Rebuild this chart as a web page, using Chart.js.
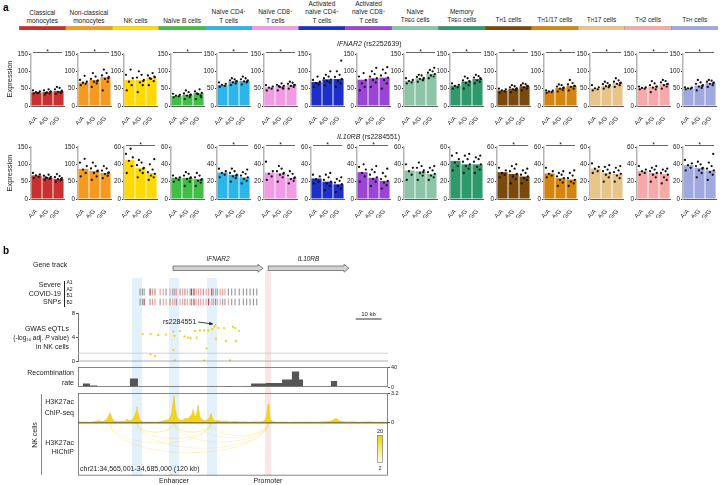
<!DOCTYPE html>
<html><head><meta charset="utf-8">
<script src="https://cdn.jsdelivr.net/npm/chart.js@4.4.1/dist/chart.umd.min.js"></script>
<style>
html,body{margin:0;padding:0;background:#fff}
body{width:720px;height:485px;position:relative;overflow:hidden;font-family:"Liberation Sans",Arial,Helvetica,sans-serif;color:#222}
canvas{position:absolute}
.t{position:absolute;white-space:nowrap}
.t sup{font-size:65%;vertical-align:0;position:relative;top:-0.5em}
.t small{font-size:72%}
.t sub{font-size:65%;vertical-align:0;position:relative;top:0.3em}
</style></head><body>
<script>
// ================= DATA =================
const cellTypes = ['Classical monocytes','Non-classical monocytes','NK cells','Naïve B cells','Naïve CD4+ T cells','Naïve CD8+ T cells','Activated naïve CD4+ T cells','Activated naïve CD8+ T cells','Naïve TREG cells','Memory TREG cells','TH1 cells','TH1/17 cells','TH17 cells','TH2 cells','TFH cells'];
const cellLabels = ['Classical<br>monocytes','Non-classical<br>monocytes','NK cells','Naïve B cells','Naïve CD4<sup>+</sup><br>T cells','Naïve CD8<sup>+</sup><br>T cells','Activated<br>naïve CD4<sup>+</sup><br>T cells','Activated<br>naïve CD8<sup>+</sup><br>T cells','Naïve<br>T<small>REG</small> cells','Memory<br>T<small>REG</small> cells','T<small>H</small>1 cells','T<small>H</small>1/17 cells','T<small>H</small>17 cells','T<small>H</small>2 cells','T<small>FH</small> cells'];
const cellColors = ['#c8312f','#f59a1f','#ffd900','#40bf46','#2bb5e8','#f09be4','#1c2fc8','#9b45d6','#8cc4a8','#2e9a6b','#7a4a0c','#d4850f','#e6c48a','#f7a9a9','#a0a8e0'];
const genotypes = ['A/A','A/G','G/G'];

const ifnar2Label = '<i>IFNAR2</i> (rs2252639)';
const ifnar2Means = [[39,40,43],[68,75,83],[75,75,82],[29,32,37],[61,71,72],[54,58,61],[69,77,78],[76,80,82],[73,80,93],[59,71,78],[45,50,57],[42,52,58],[51,58,66],[52,56,63],[51,59,66]];
const ifnar2Sig = [1,1,0,1,1,1,0,0,1,1,1,1,1,1,1];
const ifnar2Max = [150,150,150,150,150,150,150,150,150,150,150,150,150,150,150];
const ifnar2Dots = [
 [[36,38,40,42,45,37],[33,36,39,42,45,48,38,41],[35,38,41,44,48,52,55,40]],
 [[60,64,67,70,75,87],[55,65,70,74,78,85,95,72],[45,70,78,84,88,95,105,80]],
 [[45,60,70,80,90,105],[40,60,68,75,82,90,100,72],[60,72,78,83,88,95,80,85]],
 [[25,28,30,32,35],[20,26,30,33,36,40,45,32],[20,30,34,38,42,48,36,25]],
 [[55,58,61,64,68],[60,65,68,71,74,77,80,72],[62,68,71,74,77,80,85,72]],
 [[45,50,53,56,60],[45,52,55,58,61,65,57,50],[50,55,58,61,64,67,70,60]],
 [[55,62,66,70,75,85],[60,68,72,76,80,85,90,100],[55,65,72,78,84,90,100,131]],
 [[45,55,65,75,85,95],[55,68,75,80,85,92,100,110],[50,65,75,82,88,95,105,112]],
 [[65,68,72,75,80],[70,74,78,81,84,88,90,76],[80,85,88,92,96,100,104,110]],
 [[50,54,58,61,65],[50,60,66,70,74,80,85,72],[65,70,74,78,82,86,90,80]],
 [[38,42,45,48,50],[40,45,48,51,54,57,60,50],[45,50,54,57,60,63,65,58]],
 [[38,40,42,44,45],[42,46,50,53,56,60,62,52],[45,50,55,58,62,66,75,58]],
 [[45,48,51,54,60],[50,54,57,60,63,66,70,58],[55,60,64,67,70,74,80,66]],
 [[48,50,52,54,56],[40,48,53,56,60,65,72,56],[50,56,60,64,68,72,75,63]],
 [[48,50,51,53,54],[45,52,56,60,64,68,75,58],[55,60,64,67,70,73,75,66]]
];

const il10rbLabel = '<i>IL10RB</i> (rs2284551)';
const il10rbMeans = [[68,62,58],[87,81,75],[45,36,30],[24.5,24.5,23],[30.5,28,25],[30.5,29.5,24.5],[23.7,20,17],[31,24.5,21],[33,32,29],[44,40,40],[31,29,26],[29.5,24,22.5],[35,30,29],[32.5,30,29],[39,36,33]];
const il10rbSig = [0,0,1,0,1,1,1,1,0,0,1,1,0,1,1];
const il10rbMax = [150,150,60,60,60,60,60,60,60,60,60,60,60,60,60];
const il10rbDots = [
 [[60,64,68,71,75],[55,58,61,64,67,70,62,60],[50,54,57,60,63,66,72,58]],
 [[65,75,85,95,105,116],[55,65,75,82,88,95,105,80],[60,67,72,77,82,88,95,75]],
 [[30,38,44,48,52,58],[25,30,33,36,39,42,45,35],[22,25,27,29,31,34,40,46]],
 [[20,22,24,25,27],[15,20,23,25,27,29,31,24],[15,19,21,23,25,27,30,22]],
 [[25,28,30,32,35],[20,24,26,28,30,32,35,27],[18,21,23,25,27,29,31,34]],
 [[22,26,29,32,43],[20,25,28,30,32,35,38,29],[18,21,23,25,27,29,32,24]],
 [[18,20,23,26,28],[10,15,18,20,22,25,28,30],[8,12,15,17,19,21,23,25]],
 [[20,26,30,34,37,40],[15,20,23,25,28,31,34,38],[12,16,19,21,23,26,30,35]],
 [[22,28,32,36,40],[22,27,30,33,36,38,42,31],[22,25,27,29,31,33,36,38]],
 [[33,38,42,46,50,53],[30,35,38,40,43,46,50,52],[30,34,37,40,43,46,48,50]],
 [[25,28,30,33,36],[18,23,26,29,32,35,38,40],[18,22,24,26,28,30,33,35]],
 [[25,27,29,32,36],[15,19,22,24,26,28,30,32],[15,18,20,22,24,27,30,33]],
 [[30,32,35,37,41],[20,25,28,30,32,34,37,39],[20,24,27,29,31,33,36,38]],
 [[28,30,32,34,38],[20,25,28,30,32,34,36,38],[18,22,25,28,30,32,34,35]],
 [[33,36,39,41,45],[25,30,33,36,38,40,43,35],[22,28,31,33,35,38,42,52]]
];

// ---- panel b (positions in kb from chr21:34,565,001) ----
const regionLabel = 'chr21:34,565,001-34,685,000 (120 kb)';
const regionKb = [0, 120];
const geneNames = ['IFNAR2','IL10RB'];
const geneStart = [36.8, 73.6];
const geneEnd = [71.6, 104.9];
const enhStart = [20.9, 35.2, 49.9];
const enhEnd = [24.8, 39.1, 53.8];
const promStart = [72.4];
const promEnd = [74.7];
const snpPos = [24.0,24.9,25.6,27.9,28.8,29.8,31.8,33.0,34.1,35.6,36.7,37.5,38.2,39.5,40.5,41.4,42.3,43.4,44.0,44.9,45.7,46.6,47.5,48.5,49.6,50.6,51.8,52.4,53.2,53.9,55.0,56.0,56.9,58.2,59.5,60.8,62.4,64.0,65.3,66.6,67.9,69.2];
const snpClassA = [0,0,0,2,1,0,1,1,0,1,0,0,1,0,1,0,1,0,2,2,1,1,1,0,1,1,2,1,1,0,1,1,1,0,0,0,0,0,0,0,0,0];
const snpClassB = [0,0,2,0,1,1,0,1,1,0,1,1,0,1,1,0,1,1,0,2,1,1,1,1,1,2,1,1,0,1,1,0,0,1,0,0,0,0,0,0,0,0];
const eqtlPos = [25.0,28.1,31.1,34.0,36.9,37.3,39.5,41.2,42.5,43.6,45.3,45.9,47.2,48.8,49.8,48.8,50.4,52.0,52.8,53.2,53.4,54.3,56.5,57.3,58.8,59.9,60.8,61.2,62.4,28.1,29.8,36.9,37.5];
const eqtlLogP = [4.5,4.5,4.3,4.4,4.9,4.2,5.0,4.1,3.9,3.8,5.0,3.9,5.1,5.1,2.1,0.1,5.1,5.3,5.7,6.0,3.7,5.5,5.5,3.3,0.1,5.7,5.5,3.3,5.0,1.1,0.8,1.8,0.1];
const eqtlThreshold = [1.3];
const leadSnp = ['rs2284551'];
const leadPos = [53.2];
const leadLogP = [6.0];
const recStart = [1.9,4.6,20.1,51.1,57.3,63.9,67.0,72.8,79.0,82.8,85.6,97.9,107.2];
const recEnd   = [4.6,7.4,23.2,52.3,59.6,67.0,72.8,79.0,82.8,85.6,87.1,100.3,108.0];
const recRate  = [7,3,17,1.5,2,1,7,8,15,31,15,12,1];
const recTicks = [0,40];
const chipPos = [0,2.3,4.6,6.6,8.1,9.3,10.8,11.6,12.4,13.2,13.9,15.5,17.0,18.2,19.0,19.7,20.9,21.7,22.5,22.8,23.4,24.0,25.2,26.7,28.6,30.2,31.7,32.9,34.1,35.2,36.2,36.8,37.2,37.6,38.3,39.1,40.3,41.0,41.8,42.6,43.4,44.1,44.5,45.1,45.7,46.1,46.5,47.0,47.6,48.4,49.2,49.9,50.7,51.5,52.1,53.0,54.2,55.7,57.3,58.8,60.8,62.7,64.7,66.6,68.5,70.5,72.0,72.8,73.3,73.6,73.9,74.5,75.5,77.4,79.8,82.1,84.4,86.7,89.0,91.4,93.7,96.0,97.9,99.1,99.9,100.7,101.8,103.8,106.1,108.4,110.7,113.0,115.4,117.7,120];
const chipVal = [0.08,0.1,0.06,0.15,0.25,0.12,0.3,0.6,1.07,0.5,0.2,0.12,0.2,0.15,0.4,0.2,0.3,0.6,1.2,1.7,0.8,0.3,0.1,0.08,0.1,0.06,0.12,0.2,0.3,0.35,0.9,2.2,2.9,1.6,0.6,0.35,0.25,0.4,0.5,0.45,0.7,0.9,1.4,0.8,0.7,1.2,1.9,0.9,0.4,0.3,0.2,0.3,0.5,1.0,0.4,0.2,0.25,0.15,0.2,0.1,0.15,0.1,0.12,0.08,0.12,0.1,0.2,0.5,1.3,2.0,1.0,0.35,0.12,0.08,0.1,0.06,0.1,0.08,0.1,0.08,0.1,0.12,0.2,0.35,0.5,0.3,0.15,0.1,0.12,0.08,0.1,0.12,0.06,0.1,0.05];
const chipTicks = [0,3.2];
const hichipA = [12.4,12.4,22.8,37.2,22.8,22.8,37.2,51.5,46.5];
const hichipB = [73.6,51.5,37.2,51.5,51.5,73.6,73.6,73.6,73.6];
const hichipCount = [9,6,15,15,8,6,8,7,5];
const hichipRange = [2,20];
const scaleBarKb = [107.5,117.5];

// ================= HELPERS =================
Chart.defaults.font.family = '"Liberation Sans", Arial, Helvetica, sans-serif';
Chart.defaults.color = '#222';
function cv(x,y,w,h){const c=document.createElement('canvas');c.width=w;c.height=h;c.style.left=x+'px';c.style.top=y+'px';c.style.width=w+'px';c.style.height=h+'px';document.body.appendChild(c);return c;}
function T(html,x,y,o){o=o||{};const d=document.createElement('div');d.className='t';d.innerHTML=html;const fs=o.fs||7;d.style.fontSize=fs+'px';d.style.lineHeight=(o.lh||Math.round(fs*1.15*10)/10)+'px';d.style.left=x+'px';d.style.top=y+'px';const tx=o.a==='r'?'-100%':o.a==='c'?'-50%':'0';const ty=o.vb?'-100%':'-50%';d.style.transform='translate('+tx+','+ty+')'+(o.rot?' rotate('+o.rot+'deg)':'');d.style.textAlign=o.a==='r'?'right':o.a==='c'?'center':'left';if(o.i)d.style.fontStyle='italic';if(o.b)d.style.fontWeight='bold';if(o.col)d.style.color=o.col;document.body.appendChild(d);return d;}
function mk(c,cfg){cfg.options=Object.assign({responsive:false,maintainAspectRatio:false,animation:false,devicePixelRatio:1,events:[]},cfg.options||{});cfg.options.plugins=Object.assign({legend:{display:false},tooltip:{enabled:false}},cfg.options.plugins||{});return new Chart(c,cfg);}
function line(x,y,w,h,css){const d=document.createElement('div');d.style.cssText='position:absolute;left:'+x+'px;top:'+y+'px;width:'+w+'px;height:'+h+'px;'+css;document.body.appendChild(d);}

// ================= PANEL A =================
T('a',3,8,{fs:10,b:true,col:'#000'});
const SEG0=19, SEGW=46.6;
cellLabels.forEach((l,i)=>T(l,SEG0+(i+0.5)*SEGW,24.8,{a:'c',vb:true,fs:6.5,lh:8}));
mk(cv(SEG0,26,Math.round(SEGW*15),4),{type:'bar',data:{labels:cellTypes,datasets:[{data:cellTypes.map(()=>1),backgroundColor:cellColors,barPercentage:1,categoryPercentage:1,borderWidth:0.5,borderColor:'rgba(0,0,0,0.35)'}]},
 options:{layout:{padding:0},scales:{x:{display:false},y:{display:false,min:0,max:1}}}});

const jit=[-0.25,0.2,-0.05,0.3,-0.32,0.1,-0.15,0.25];
const sigPlugin={id:'sig',afterDraw(ch,a,o){if(!o.show)return;const c=ch.ctx,ca=ch.chartArea;const y=ca.top-1.5;c.save();c.strokeStyle='#222';c.lineWidth=0.7;c.beginPath();c.moveTo(ca.left+2,y);c.lineTo(ca.right-2,y);c.stroke();c.fillStyle='#222';c.font='7px "Liberation Sans",Arial';c.textAlign='center';c.textBaseline='alphabetic';c.fillText('*',(ca.left+ca.right)/2,y+1.5);c.restore();}};
function smallBar(i,row){
 const ax=31+i*SEGW;
 const top=row===0?45:137, h=row===0?80:81, padTop=row===0?9:10;
 const means=row===0?ifnar2Means[i]:il10rbMeans[i];
 const dots=row===0?ifnar2Dots[i]:il10rbDots[i];
 const ymax=row===0?ifnar2Max[i]:il10rbMax[i];
 const sig=row===0?ifnar2Sig[i]:il10rbSig[i];
 const pts=[];dots.forEach((g,gi)=>g.forEach((v,k)=>pts.push({x:gi+jit[k%jit.length],y:v})));
 mk(cv(Math.round(ax)-18,top,55,h),{type:'bar',data:{datasets:[
   {type:'scatter',data:pts,pointRadius:1.15,pointBackgroundColor:'#111',pointBorderWidth:0,order:0},
   {data:means.map((m,k)=>({x:k,y:m})),backgroundColor:cellColors[i],barPercentage:0.92,categoryPercentage:1,order:1}]},
  options:{layout:{padding:{top:padTop,left:0,right:1,bottom:0}},plugins:{sig:{show:!!sig}},
   scales:{
    x:{type:'linear',offset:false,min:-0.5,max:2.5,afterBuildTicks:s=>{s.ticks=genotypes.map((g,k)=>({value:k}));},
       ticks:{callback:v=>genotypes[v],autoSkip:false,minRotation:45,maxRotation:45,font:{size:6},padding:1,color:'#222'},grid:{display:false,offset:false},border:{color:'#333',width:0.8},afterFit:s=>{s.height=19;}},
    y:{min:0,max:ymax,ticks:{stepSize:ymax===150?50:20,font:{size:6.3},padding:1,color:'#222'},grid:{drawOnChartArea:false,tickLength:2,color:'#333'},border:{color:'#b4b4b4',width:1.5},afterFit:s=>{s.width=18;}}
   }},plugins:[sigPlugin]});
}
for(let i=0;i<15;i++){smallBar(i,0);smallBar(i,1);}
T('Expression',10,79,{a:'c',rot:-90,fs:7.5});
T('Expression',10,173,{a:'c',rot:-90,fs:7.5});
T(ifnar2Label,337,44,{fs:7});
T(il10rbLabel,337,137,{fs:7});

// ================= PANEL B =================
T('b',3,251,{fs:10,b:true,col:'#000'});
const PADL=78, PADR=332;
function hx(){return {type:'linear',display:false,offset:false,min:regionKb[0],max:regionKb[1]};}

// background: enhancer/promoter bands + gene track
const BGTOP=250;
const bgPlugin={id:'bgp',beforeDraw(ch){const c=ch.ctx,xs=ch.scales.x;c.save();
  c.fillStyle='rgba(190,224,246,0.45)';enhStart.forEach((s,k)=>{const a=xs.getPixelForValue(s),b=xs.getPixelForValue(enhEnd[k]);c.fillRect(a,278-BGTOP,b-a,476-278);});
  c.fillStyle='rgba(244,200,200,0.45)';promStart.forEach((s,k)=>{const a=xs.getPixelForValue(s),b=xs.getPixelForValue(promEnd[k]);c.fillRect(a,270-BGTOP,b-a,476-270);});
  c.restore();},
 afterDraw(ch){const c=ch.ctx,xs=ch.scales.x;c.save();c.fillStyle='#d2d2d2';c.strokeStyle='#6a6a6a';c.lineWidth=0.8;
  geneStart.forEach((s,k)=>{const a=xs.getPixelForValue(s),b=xs.getPixelForValue(geneEnd[k]);const y0=266-BGTOP,y1=270.5-BGTOP,hy0=264.3-BGTOP,hy1=272.2-BGTOP,hl=5;
   c.beginPath();c.moveTo(a,y0);c.lineTo(b-hl,y0);c.lineTo(b-hl,hy0);c.lineTo(b,(y0+y1)/2);c.lineTo(b-hl,hy1);c.lineTo(b-hl,y1);c.lineTo(a,y1);c.closePath();c.fill();c.stroke();});
  c.restore();}};
const bg=mk(cv(0,BGTOP,720,230),{type:'scatter',data:{datasets:[]},options:{layout:{padding:{left:PADL,right:PADR,top:0,bottom:0}},scales:{x:hx(),y:{display:false,min:0,max:1}}},plugins:[bgPlugin]});
geneNames.forEach((g,k)=>T(g,bg.scales.x.getPixelForValue((geneStart[k]+geneEnd[k])/2),259,{a:'c',i:true,fs:6.5}));
T('Enhancer',bg.scales.x.getPixelForValue((enhStart[1]+enhEnd[1])/2),481,{a:'c',fs:7});
T('Promoter',bg.scales.x.getPixelForValue((promStart[0]+promEnd[0])/2),481,{a:'c',fs:7});

// SNP ticks
const snpCol=['#8c8c8c','#f09090','#9a2a2a'];
mk(cv(0,282,720,30),{type:'scatter',data:{datasets:[
  {data:snpPos.map(p=>({x:p,y:1})),pointStyle:'line',pointRotation:90,pointRadius:3.5,pointBorderWidth:1,pointBorderColor:snpClassA.map(c=>snpCol[c])},
  {data:snpPos.map(p=>({x:p,y:0})),pointStyle:'line',pointRotation:90,pointRadius:3.3,pointBorderWidth:1,pointBorderColor:snpClassB.map(c=>snpCol[c])}]},
 options:{layout:{padding:{left:PADL,right:PADR,top:0,bottom:0}},scales:{x:hx(),y:{display:false,min:-0.5,max:1.5}}}});

// eQTL
const eqPlugin={id:'eqp',afterDraw(ch){const c=ch.ctx,xs=ch.scales.x,ys=ch.scales.y;c.save();
  const px=xs.getPixelForValue(leadPos[0]),py=ys.getPixelForValue(leadLogP[0]);
  const sx=198,sy=322-305,ex=px-2.5,ey=py-1;c.strokeStyle='#111';c.fillStyle='#111';c.lineWidth=0.8;c.beginPath();c.moveTo(sx,sy);c.lineTo(ex,ey);c.stroke();
  const ang=Math.atan2(ey-sy,ex-sx);c.beginPath();c.moveTo(ex,ey);c.lineTo(ex-4*Math.cos(ang-0.45),ey-4*Math.sin(ang-0.45));c.lineTo(ex-4*Math.cos(ang+0.45),ey-4*Math.sin(ang+0.45));c.closePath();c.fill();
  const a=xs.getPixelForValue(scaleBarKb[0]),b=xs.getPixelForValue(scaleBarKb[1]);c.strokeStyle='#333';c.lineWidth=1;c.beginPath();c.moveTo(a,319-305);c.lineTo(b,319-305);c.stroke();
  c.restore();}};
const eq=mk(cv(0,305,720,62),{type:'scatter',data:{datasets:[
  {type:'line',data:[{x:regionKb[0],y:eqtlThreshold[0]},{x:regionKb[1],y:eqtlThreshold[0]}],borderColor:'#c8c8c8',borderWidth:0.8,pointRadius:0,clip:false},
  {type:'line',data:[{x:regionKb[0],y:0},{x:regionKb[1],y:0}],borderColor:'#9a9a9a',borderWidth:0.8,pointRadius:0,clip:false},
  {data:eqtlPos.map((p,k)=>({x:p,y:eqtlLogP[k]})),pointRadius:1.1,pointBackgroundColor:'#f2cf00',pointBorderWidth:0}]},
 options:{layout:{padding:{left:PADL-10,right:PADR,top:8,bottom:6}},
  scales:{x:hx(),y:{min:0,max:8,ticks:{stepSize:4,font:{size:6},padding:1},grid:{drawOnChartArea:false,tickLength:2,color:'#555'},border:{color:'#555',width:0.8},afterFit:s=>{s.width=10;}}}},plugins:[eqPlugin]});
T(leadSnp[0],163,322,{fs:7});
T('10 kb',eq.scales.x.getPixelForValue((scaleBarKb[0]+scaleBarKb[1])/2),314,{a:'c',fs:6});

// Recombination rate
const boxPlugin={id:'box',afterDraw(ch){const c=ch.ctx,ca=ch.chartArea;c.save();c.strokeStyle='#7a7a7a';c.lineWidth=0.9;c.strokeRect(ca.left+0.5,ca.top+0.5,ca.right-ca.left-1,ca.bottom-ca.top-1);c.restore();}};
const recPts=[{x:regionKb[0],y:0}];recStart.forEach((s,k)=>{recPts.push({x:s,y:recRate[k]},{x:recEnd[k],y:0});});recPts.push({x:regionKb[1],y:0});
const rightAxis=(min,max,tks)=>({position:'right',min:min,max:max,afterBuildTicks:s=>{s.ticks=tks.map(v=>({value:v}));},ticks:{font:{size:5.5},padding:1},grid:{drawOnChartArea:false,tickLength:2,color:'#555'},border:{display:false},afterFit:s=>{s.width=14;}});
mk(cv(0,362,720,30),{type:'line',data:{datasets:[{data:recPts,stepped:true,fill:'origin',backgroundColor:'#555',borderWidth:0,pointRadius:0}]},
 options:{layout:{padding:{left:PADL,right:PADR-14,top:5,bottom:5}},scales:{x:hx(),y:rightAxis(0,40,recTicks)}},plugins:[boxPlugin]});

// ChIP-seq + HiChIP
const chipMin=-(83-30)*chipTicks[1]/30;
const hicPlugin={id:'hic',beforeDatasetsDraw(ch){const c=ch.ctx,xs=ch.scales.x,ys=ch.scales.y;const y0=ys.getPixelForValue(0);c.save();
  hichipA.forEach((a,k)=>{const x1=xs.getPixelForValue(a),x2=xs.getPixelForValue(hichipB[k]);const rx=(x2-x1)/2,ry=3+0.17*(x2-x1);const t=(hichipCount[k]-hichipRange[0])/(hichipRange[1]-hichipRange[0]);
   c.strokeStyle='rgba(244,210,40,'+(0.18+0.5*t).toFixed(2)+')';c.lineWidth=0.7;c.beginPath();c.ellipse((x1+x2)/2,y0,rx,ry,0,0,Math.PI);c.stroke();});
  c.restore();},
 afterDraw(ch){const c=ch.ctx,ys=ch.scales.y,ca=ch.chartArea;const y0=ys.getPixelForValue(0);c.save();c.strokeStyle='#7a7a7a';c.lineWidth=0.9;c.strokeRect(ca.left+0.5,ca.top+0.5,ca.right-ca.left-1,ca.bottom-ca.top-1);
  c.strokeStyle='#444';c.lineWidth=1;c.beginPath();c.moveTo(ca.left,y0);c.lineTo(ca.right,y0);c.stroke();
  const lx=ca.right-11,ly=435-388,lw=6,lh=28;const g=c.createLinearGradient(0,ly,0,ly+lh);g.addColorStop(0,'#f2cf00');g.addColorStop(1,'#ffffff');c.fillStyle=g;c.fillRect(lx,ly,lw,lh);c.strokeStyle='#888';c.lineWidth=0.7;c.strokeRect(lx+0.5,ly+0.5,lw-1,lh-1);
  c.restore();}};
mk(cv(0,388,720,92),{type:'line',data:{datasets:[{data:chipPos.map((p,k)=>({x:p,y:chipVal[k]})),fill:'origin',backgroundColor:'#f6d31c',borderColor:'#f0c800',borderWidth:0.6,pointRadius:0,tension:0}]},
 options:{layout:{padding:{left:PADL,right:PADR-14,top:5,bottom:4}},scales:{x:hx(),y:rightAxis(chipMin,chipTicks[1],chipTicks)}},plugins:[hicPlugin]});
T(String(hichipRange[1]),380,431,{a:'c',fs:5.5});
T(String(hichipRange[0]),380,467.5,{a:'c',fs:5.5});

// left labels of panel b
T('Gene track',33,265,{fs:7});
T('Severe',61,285,{a:'r',fs:7});T('COVID-19',61,293.5,{a:'r',fs:7});T('SNPs',61,302,{a:'r',fs:7});
line(64,281,0,26,'border-left:1px solid #222');
T('A1',66.5,283,{fs:5});T('A2',66.5,289.7,{fs:5});T('B1',66.5,296.3,{fs:5});T('B2',66.5,303,{fs:5});
T('GWAS eQTLs',69,329,{a:'r',fs:7});
T('(-log<sub>10</sub> adj. <i>P</i> value)',69,338,{a:'r',fs:6.5});
T('in NK cells',69,347,{a:'r',fs:7});
T('Recombination',74,373,{a:'r',fs:7});T('rate',74,383,{a:'r',fs:7});
T('NK cells',35,435,{a:'c',rot:-90,fs:7});
line(41,394,0,81,'border-left:1px solid #888');
T('H3K27ac',74,402,{a:'r',fs:7});T('ChIP-seq',74,413,{a:'r',fs:7});
T('H3K27ac',74,443,{a:'r',fs:7});T('HiChIP',74,452,{a:'r',fs:7});
T(regionLabel,80,469,{fs:7});
</script></body></html>
